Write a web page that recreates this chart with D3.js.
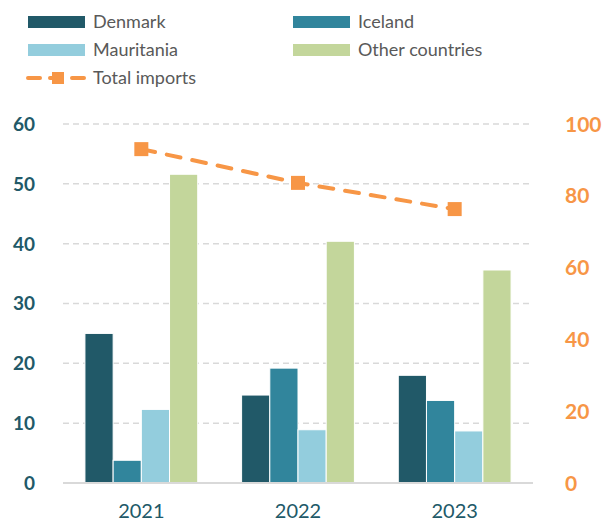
<!DOCTYPE html>
<html lang="en">
<head>
<meta charset="UTF-8">
<script src="https://cdn.jsdelivr.net/npm/d3@7"></script>
<style>
  body { margin: 0; background: #fff; }
  svg { font-family: Lato, "Open Sans", sans-serif; }
</style>
<title>imports</title>
</head>
<body>
<svg width="607" height="522"></svg>
<script>
// data
var years = ["2021", "2022", "2023"];
var countries = ["Denmark", "Iceland", "Mauritania", "Other countries"];
var denmark = [25.0, 14.7, 18.0];
var iceland = [3.8, 19.2, 13.8];
var mauritania = [12.3, 8.9, 8.7];
var other = [51.6, 40.4, 35.6];
var totalImports = [93.0, 83.6, 76.3];
var leftTicks = [0, 10, 20, 30, 40, 50, 60];
var rightTicks = [0, 20, 40, 60, 80, 100];

var colors = ["#215968", "#31859C", "#93CDDD", "#C3D69B"];
var orange = "#F79646";

var svg = d3.select("svg");
var plotLeft = 63, plotRight = 533, plotTop = 124, plotBottom = 483;

var x = d3.scaleBand().domain(years).range([plotLeft, plotRight]).paddingInner(0.28).paddingOuter(0.14);
var xs = d3.scaleBand().domain(countries).range([0, x.bandwidth()]);
var y = d3.scaleLinear().domain([0, 60]).range([plotBottom, plotTop]);
var y2 = d3.scaleLinear().domain([0, 100]).range([plotBottom, plotTop]);

// gridlines
svg.append("g").selectAll("line")
  .data(leftTicks.filter(function(d){ return d > 0; }))
  .enter().append("line")
  .attr("x1", plotLeft).attr("x2", plotRight)
  .attr("y1", function(d){ return y(d); }).attr("y2", function(d){ return y(d); })
  .attr("stroke", "#D9D9D9").attr("stroke-width", 1.5)
  .attr("stroke-dasharray", "6,4");

// bars
var seriesVals = [denmark, iceland, mauritania, other];
var rows = [];
years.forEach(function(yr, i){
  countries.forEach(function(c, j){
    rows.push({year: yr, country: c, value: seriesVals[j][i], color: colors[j]});
  });
});
svg.append("g").selectAll("rect")
  .data(rows).enter().append("rect")
  .attr("x", function(d){ return x(d.year) + xs(d.country); })
  .attr("y", function(d){ return y(d.value); })
  .attr("width", xs.bandwidth())
  .attr("height", function(d){ return y(0) - y(d.value); })
  .attr("fill", function(d){ return d.color; })
  .attr("stroke", "#fff").attr("stroke-width", 1);

// baseline
svg.append("line")
  .attr("x1", plotLeft).attr("x2", plotRight).attr("y1", y(0)).attr("y2", y(0))
  .attr("stroke", "#D9D9D9").attr("stroke-width", 2);

// left axis
svg.append("g").selectAll("text")
  .data(leftTicks).enter().append("text")
  .attr("x", 35).attr("y", function(d){ return y(d); })
  .attr("dy", "0.36em").attr("text-anchor", "end")
  .attr("font-size", "19px").attr("font-weight", "bold").attr("fill", "#215968")
  .text(function(d){ return d; });

// right axis
svg.append("g").selectAll("text")
  .data(rightTicks).enter().append("text")
  .attr("x", 565).attr("y", function(d){ return y2(d); })
  .attr("dy", "0.36em").attr("text-anchor", "start")
  .attr("font-size", "21px").attr("font-weight", "bold").attr("fill", orange)
  .text(function(d){ return d; });

// x labels
svg.append("g").selectAll("text")
  .data(years).enter().append("text")
  .attr("x", function(d){ return x(d) + x.bandwidth() / 2; })
  .attr("y", 518).attr("text-anchor", "middle")
  .attr("font-size", "20px").attr("fill", "#215968")
  .text(function(d){ return d; });

// total imports line
var line = d3.line()
  .x(function(d, i){ return x(years[i]) + x.bandwidth() / 2; })
  .y(function(d){ return y2(d); });
svg.append("path")
  .datum(totalImports)
  .attr("d", line)
  .attr("fill", "none").attr("stroke", orange).attr("stroke-width", 4)
  .attr("stroke-dasharray", "14,12").attr("stroke-linecap", "round");
svg.append("g").selectAll("rect")
  .data(totalImports).enter().append("rect")
  .attr("x", function(d, i){ return x(years[i]) + x.bandwidth() / 2 - 7; })
  .attr("y", function(d){ return y2(d) - 7; })
  .attr("width", 14).attr("height", 14)
  .attr("fill", orange);

// legend
var legend = svg.append("g").attr("font-size", "18px").attr("fill", "#595959");
countries.forEach(function(c, j){
  var lx = j % 2 === 0 ? 28 : 293;
  var ly = j < 2 ? 22 : 50;
  legend.append("rect").attr("x", lx).attr("y", ly - 6).attr("width", 57).attr("height", 12)
    .attr("fill", colors[j]);
  legend.append("text").attr("x", lx + 65).attr("y", ly).attr("dy", "0.35em").text(c);
});
legend.append("line").attr("x1", 28).attr("x2", 87).attr("y1", 78).attr("y2", 78)
  .attr("stroke", orange).attr("stroke-width", 4)
  .attr("stroke-dasharray", "12,10").attr("stroke-linecap", "round");
legend.append("rect").attr("x", 52).attr("y", 72).attr("width", 12).attr("height", 12).attr("fill", orange);
legend.append("text").attr("x", 93).attr("y", 78).attr("dy", "0.35em").text("Total imports");
</script>
</body>
</html>
